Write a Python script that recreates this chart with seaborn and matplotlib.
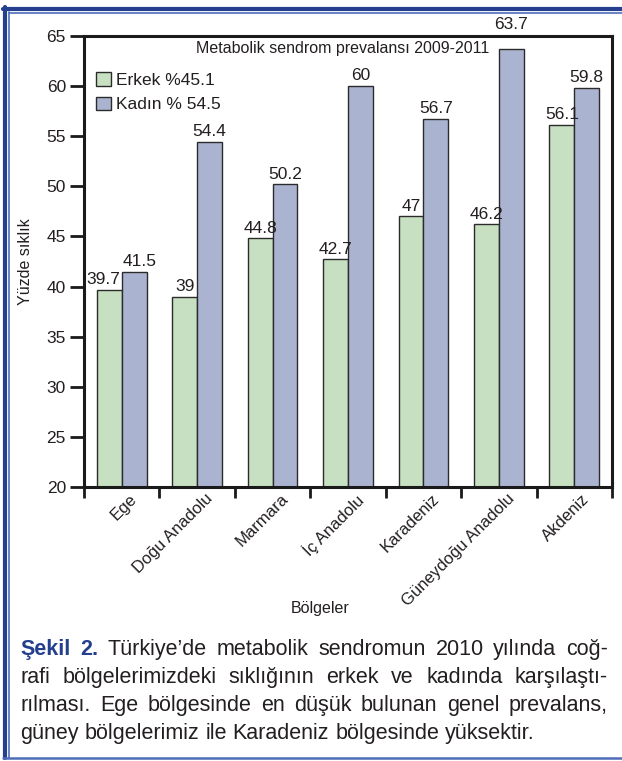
import matplotlib
matplotlib.use("Agg")
import matplotlib.pyplot as plt
from matplotlib.lines import Line2D
from matplotlib.patches import Patch
import seaborn as sns
import pandas as pd

# --- data -------------------------------------------------------------
regions = ["Ege", "Doğu Anadolu", "Marmara", "İç Anadolu", "Karadeniz",
           "Güneydoğu Anadolu", "Akdeniz"]
erkek = [39.7, 39, 44.8, 42.7, 47, 46.2, 56.1]
kadin = [41.5, 54.4, 50.2, 60, 56.7, 63.7, 59.8]
groups = ["Erkek", "Kadın"]
legend_labels = ["Erkek %45.1", "Kadın % 54.5"]
chart_title = "Metabolik sendrom prevalansı 2009-2011"
y_ticks = [20, 25, 30, 35, 40, 45, 50, 55, 60, 65]

caption_lines = [
    "Şekil 2. Türkiye’de metabolik sendromun 2010 yılında coğ-",
    "rafi bölgelerimizdeki sıklığının erkek ve kadında karşılaştı-",
    "rılması. Ege bölgesinde en düşük bulunan genel prevalans,",
    "güney bölgelerimiz ile Karadeniz bölgesinde yüksektir.",
]

df = pd.DataFrame({
    "Bölge": regions * 2,
    "Değer": erkek + kadin,
    "Cinsiyet": [groups[0]] * len(regions) + [groups[1]] * len(regions),
})

# --- style ------------------------------------------------------------
sns.set_theme(style="white")
plt.rcParams["font.family"] = ["Liberation Sans", "DejaVu Sans"]
TXT = "#231f20"
GREEN = "#c7e0c1"
BLUE = "#aab4d1"
EDGE = "#2b2b2b"
NAVY = "#243f8e"
LIGHTNAVY = "#4f6cb8"

W, H = 622, 761
fig = plt.figure(figsize=(W / 100, H / 100), dpi=100)
fig.patch.set_facecolor("white")

def fx(px):
    return px / W

def fy(py):
    return 1 - py / H

ax = fig.add_axes([fx(84), fy(487), fx(612) - fx(84), fy(36) - fy(487)])

sns.barplot(data=df, x="Bölge", y="Değer", hue="Cinsiyet",
            palette=[GREEN, BLUE], width=0.66, edgecolor=EDGE,
            linewidth=1.0, saturation=1, legend=False, ax=ax)

ax.set_ylim(20, 65)
ax.set_xlim(-0.5, len(regions) - 0.5)
ax.set_yticks(y_ticks)
ax.set_yticklabels([str(v) for v in y_ticks], fontsize=12.5, color=TXT)

# slanted category labels (anchored a little right of each group centre),
# tick marks at the group boundaries
ax.set_xticks([i + 0.1 for i in range(len(regions))])
ax.set_xticklabels(regions, rotation=45, ha="right", va="top",
                   rotation_mode="anchor", fontsize=12, color=TXT)
ax.tick_params(axis="x", which="major", length=0, pad=3)
ax.set_xticks([i - 0.5 for i in range(len(regions) + 1)], minor=True)
ax.tick_params(axis="x", which="minor", length=8, width=2, color="#1a1a1a",
               direction="out", bottom=True)
ax.tick_params(axis="y", length=10, width=2, color="#1a1a1a",
               direction="out", left=True, pad=3)

for side in ["left", "bottom", "top", "right"]:
    ax.spines[side].set_visible(True)
    ax.spines[side].set_color("#1a1a1a")
    ax.spines[side].set_linewidth(2.2)

ax.set_ylabel("Yüzde sıklık", fontsize=11.5, color=TXT)
ax.yaxis.set_label_coords(-0.096, 0.5)
ax.set_xlabel("Bölgeler", fontsize=11.5, color=TXT)
ax.xaxis.set_label_coords(0.447, -0.252)

# value labels on each bar
for ci, cont in enumerate(ax.containers):
    texts = ax.bar_label(cont, labels=[f"{b.get_height():g}" for b in cont],
                         padding=2, fontsize=12.5, color=TXT, clip_on=False)
    for bi, (b, t) in enumerate(zip(cont, texts)):
        if b.get_height() > 62.5:
            # a label that would cross the top frame goes just above it
            t.xy = (b.get_x() + b.get_width() / 2, 65)
            t.xyann = (0, 3)
        elif bi == 0:
            # the first pair's labels are pushed apart
            t.xyann = (-4 if ci == 0 else 4, t.xyann[1])

ax.text(0.49, 0.988, chart_title, transform=ax.transAxes, ha="center",
        va="top", fontsize=11.5, color=TXT)

handles = [Patch(facecolor=GREEN, edgecolor=EDGE, linewidth=1.0),
           Patch(facecolor=BLUE, edgecolor=EDGE, linewidth=1.0)]
ax.legend(handles, legend_labels, loc="upper left",
          bbox_to_anchor=(-0.006, 0.955), frameon=False, fontsize=12.5,
          handlelength=0.85, handleheight=0.85, handletextpad=0.3,
          labelspacing=0.5, labelcolor=TXT)

# --- page frame -------------------------------------------------------
frame = [
    ((3, W), (8.5, 8.5), NAVY, 3.0),
    ((9, W), (12.5, 12.5), LIGHTNAVY, 1.2),
    ((4.5, 4.5), (7, 758), NAVY, 3.0),
    ((9, 9), (12, 758), LIGHTNAVY, 1.2),
    ((3, W), (757.5, 757.5), LIGHTNAVY, 1.8),
]
for xs, ys, col, lw in frame:
    fig.add_artist(Line2D([fx(x) for x in xs], [fy(y) for y in ys],
                          color=col, linewidth=lw, transform=fig.transFigure))

# --- caption, justified -----------------------------------------------
renderer = fig.canvas.get_renderer()
CAP_SIZE = 15.5
X0, X1 = 20, 608
baselines = [655, 683, 711, 739]


def text_width(s, **kw):
    t = fig.text(0, 0, s, fontsize=CAP_SIZE, **kw)
    w = t.get_window_extent(renderer).width
    t.remove()
    return w


space = text_width("a a") - 2 * text_width("a")

for li, (line, ypx) in enumerate(zip(caption_lines, baselines)):
    words = line.split(" ")
    arts = []
    for wi, w in enumerate(words):
        bold = li == 0 and wi < 2
        arts.append(fig.text(0, fy(ypx), w, fontsize=CAP_SIZE, va="baseline",
                             ha="left", color=NAVY if bold else TXT,
                             fontweight="bold" if bold else "normal"))
    widths = [a.get_window_extent(renderer).width for a in arts]
    if li < len(caption_lines) - 1:
        gap = (X1 - X0 - sum(widths)) / (len(words) - 1)
    else:
        gap = space
    x = X0
    for a, w in zip(arts, widths):
        a.set_x(fx(x))
        x += w + gap

fig.savefig("out.png", dpi=100, facecolor="white")
